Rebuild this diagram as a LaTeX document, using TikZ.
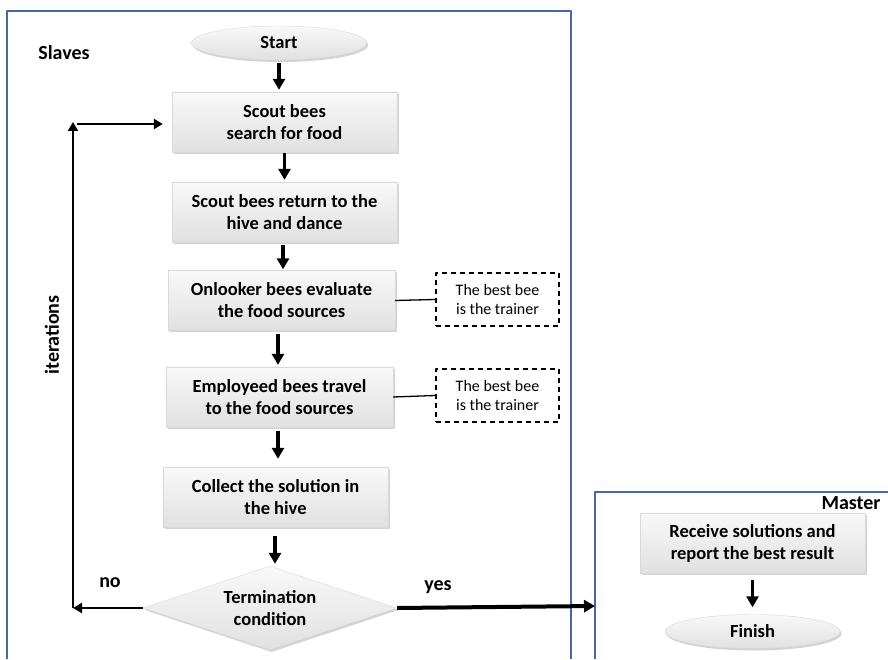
\documentclass[tikz,border=0pt]{standalone}
\usepackage{fontspec}
\setmainfont{Carlito}
\usepackage{xcolor}
\usetikzlibrary{arrows.meta,shapes.geometric,shadows,calc}
\definecolor{framblue}{RGB}{68,104,170}

\begin{document}
\begin{tikzpicture}[x=1pt,y=1pt,line join=round,>={Triangle[length=11pt,width=12pt]},
  frame/.style={draw=framblue,line width=1.2pt},
  box/.style={rectangle,minimum width=225pt,minimum height=60pt,inner sep=0pt,align=center,
    top color=gray!5,bottom color=gray!24,draw=gray!30,
    drop shadow={opacity=0.35,shadow xshift=1.5pt,shadow yshift=-2pt},
    font=\fontsize{18.5}{22}\selectfont\bfseries},
  oval/.style={box,ellipse,minimum width=175pt,minimum height=34pt},
  cond/.style={box,diamond,aspect=3,minimum width=254pt,minimum height=84pt},
  note/.style={rectangle,draw,dashed,dash pattern=on 5pt off 4pt,line width=1.4pt,
    minimum width=123pt,minimum height=53pt,inner sep=0pt,align=center,
    font=\fontsize{16}{19}\selectfont},
  lbl/.style={font=\fontsize{20}{24}\selectfont\bfseries,inner sep=0pt},
  flow/.style={->,line width=3.5pt},
  loopline/.style={-{Triangle[length=9pt,width=10pt]},line width=2.2pt},
  tie/.style={line width=1.3pt}]
\useasboundingbox (0,0) rectangle (888,659);

% the two frames
\draw[frame] (7,0) -- (7,648) -- (571,648) -- (571,0);
\draw[frame] (595,0) -- (595,167) -- (888,167);
\node[lbl] (slaves) at (64,606) {Slaves};
\node[lbl] (master) at (851,156) {Master};

% slaves
\node[oval] (start) at (279,616) {Start};
\node[box] (scout) at (284.5,537) {Scout bees\\search for food};
\node[box] (dance) at (284.5,447) {Scout bees return to the\\hive and dance};
\node[box,minimum width=227pt] (onlook) at (281.5,358.5) {Onlooker bees evaluate\\the food sources};
\node[box,minimum width=227pt] (employ) at (279.5,262) {Employeed bees travel\\to the food sources};
\node[box] (collect) at (275.5,162) {Collect the solution in\\the hive};
\node[cond] (term) at (270,51) {Termination\\condition};
\node[note] (best1) at (497.5,359.5) {The best bee\\is the trainer};
\node[note] (best2) at (497.5,263.5) {The best bee\\is the trainer};

% master
\node[box] (receive) at (752.5,116) {Receive solutions and\\report the best result};
\node[oval] (finish) at (752.5,27.5) {Finish};

\coordinate (noend) at (73,51);
\coordinate (looptop) at (73,537);
\coordinate (masterin) at (595,53);

\draw[flow] ([yshift=-3pt]start.south) -- ([yshift=2pt]start.south |- scout.north);
\draw[flow] ([yshift=-1pt]scout.south) -- ([yshift=2pt]scout.south |- dance.north);
\draw[flow] ([xshift=-1.5pt,yshift=-3pt]dance.south) -- ([xshift=-1.5pt,yshift=1pt]dance.south |- onlook.north);
\draw[flow] ([xshift=-3.5pt,yshift=-3pt]onlook.south) -- ([xshift=-3.5pt,yshift=2pt]onlook.south |- employ.north);
\draw[flow] ([xshift=-1.5pt,yshift=-4pt]employ.south) -- ([xshift=-1.5pt,yshift=8pt]employ.south |- collect.north);
\draw[flow] ([xshift=-0.5pt,yshift=-9pt]collect.south) -- ([xshift=-0.5pt,yshift=2pt]collect.south |- term.north);
\draw[flow] ([yshift=-7pt]receive.south) -- ([yshift=7pt]finish.north);

% loop back
\draw[loopline] (term.west) -- (noend);
\draw[loopline] (noend) -- (looptop);
\draw[loopline] ([xshift=4pt,yshift=-2pt]looptop) -- ([xshift=-9pt,yshift=-2pt]scout.west);
\draw[flow,line width=4pt] (term.east) -- (masterin);

\draw[tie] (onlook.east) -- (best1.west);
\draw[tie] (employ.east) -- (best2.west);

\node[lbl] (no) at (110,76) {no};
\node[lbl] (yes) at (438,72) {yes};
\node[lbl,rotate=90] (iter) at (52,324) {iterations};
\end{tikzpicture}
\end{document}
